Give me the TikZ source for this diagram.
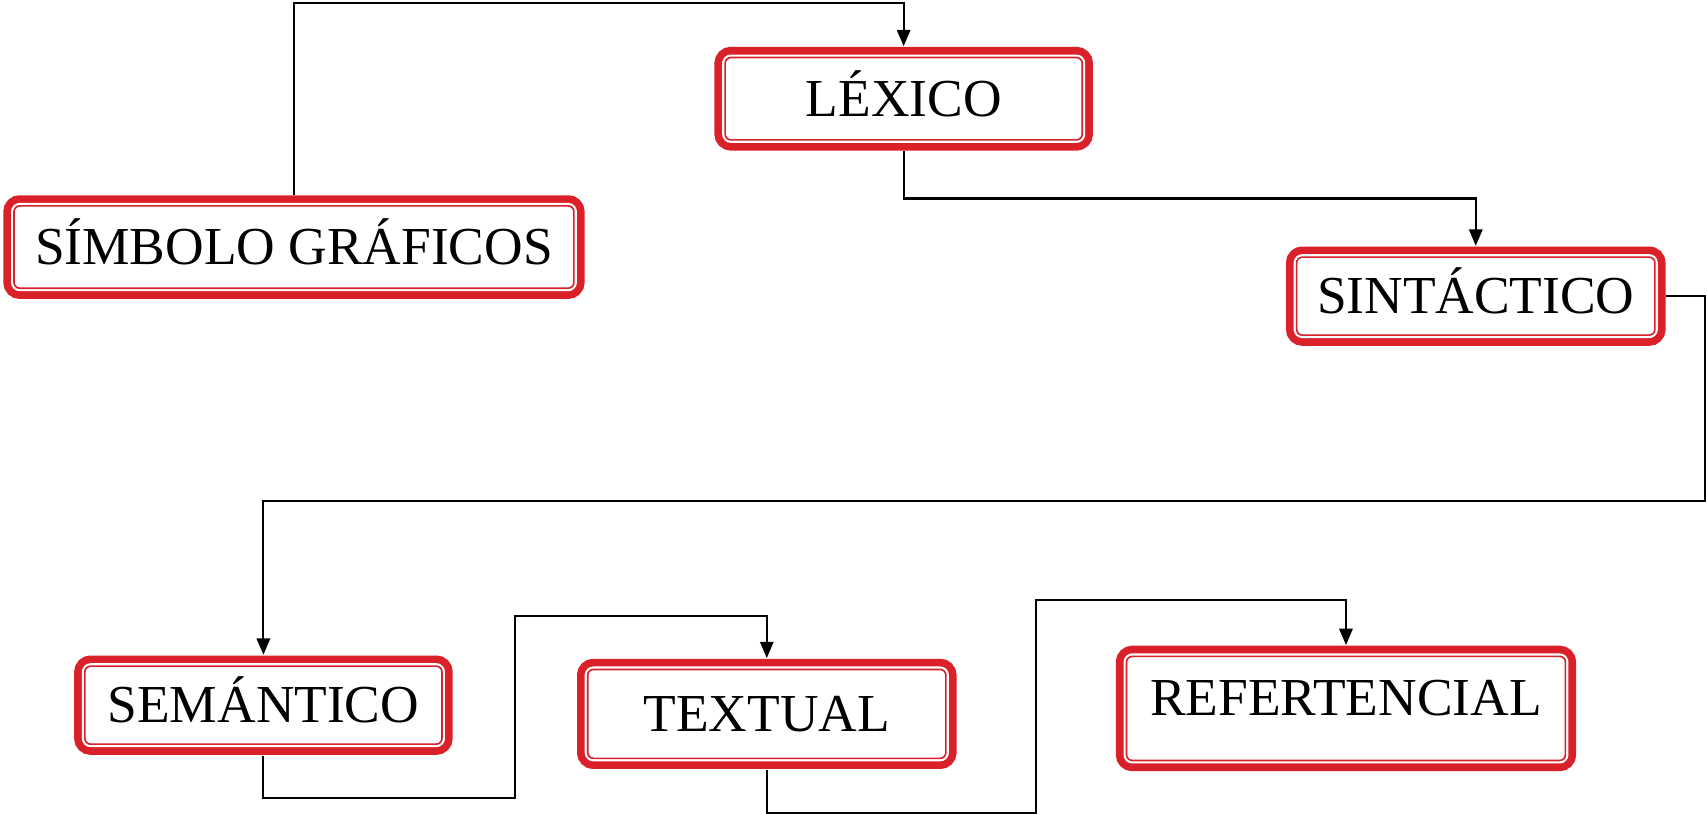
\documentclass[tikz,border=0pt]{standalone}
\usepackage{fontspec}
\setmainfont{Liberation Serif}
\usetikzlibrary{arrows.meta}
\definecolor{boxred}{RGB}{218,32,40}
\tikzset{
  box/.style={draw=boxred,line width=0.93pt,fill=white,rounded corners=3.3pt,
    preaction={draw=boxred,line width=12.1pt},
    preaction={draw=white,line width=3.4pt},
    font=\fontsize{30.4}{33}\selectfont,text height=0.708cm,text depth=0cm,
    minimum height=1.647cm,inner sep=0pt},
  link/.style={line width=1.2pt,-{Triangle[length=9.3pt,width=7.6pt]},
    shorten >=6pt,shorten <=6pt}
}
\begin{document}
\begin{tikzpicture}[x=0.021815cm,y=-0.021815cm]
\useasboundingbox (0,0) rectangle (1565,745.4);
\node[box,minimum width=11.2cm] (simb) at (269.5,226.5) {SÍMBOLO GRÁFICOS};
\node[box,minimum width=7.144cm] (lex) at (828.5,90.5) {LÉXICO};
\node[box,minimum width=7.166cm,minimum height=1.56cm] (sint) at (1353,271.5) {SINTÁCTICO};
\node[box,minimum width=7.144cm,minimum height=1.56cm] (sem) at (241.5,646.5) {SEMÁNTICO};
\node[box,minimum width=7.166cm,minimum height=1.778cm] (txt) at (703,654.5) {TEXTUAL};
\node[box,minimum width=8.78cm,minimum height=2.083cm] (ref) at (1234,649.5) {\raisebox{0.218cm}{REFERTENCIAL}};
\draw[link] (simb.north) |- (600,3) -| (lex.north);
\draw[link] (lex.south) |- (1100,182) -| (sint.north);
\draw[link] (sint.east) -| (1563.5,459) -| (sem.north);
\draw[link] (sem.south) |- (472,732) -- (472,565) -| (txt.north);
\draw[link] (txt.south) |- (950,745) -- (950,550) -| (ref.north);
\end{tikzpicture}
\end{document}
